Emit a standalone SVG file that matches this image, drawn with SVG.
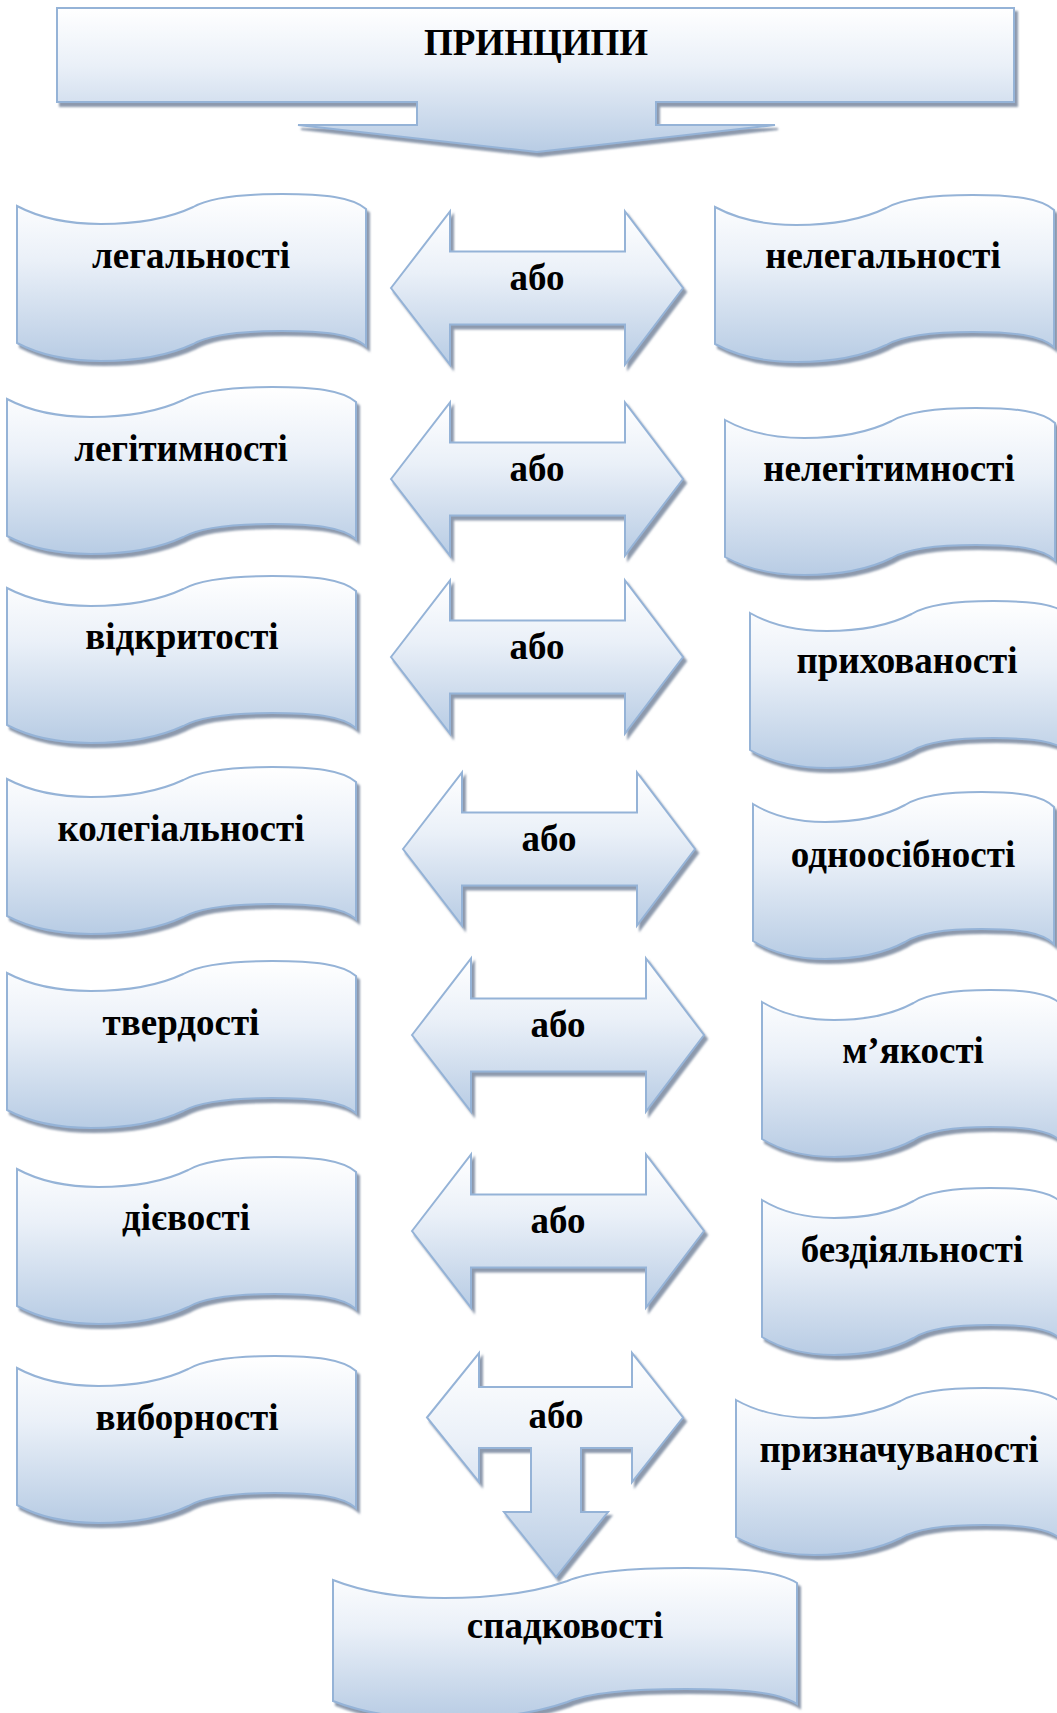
<svg xmlns="http://www.w3.org/2000/svg" width="1057" height="1713" viewBox="0 0 1057 1713">
<defs>
  <linearGradient id="grad" x1="0" y1="0" x2="0" y2="1">
    <stop offset="0" stop-color="#ffffff"/>
    <stop offset="0.4" stop-color="#eaf0f8"/>
    <stop offset="1" stop-color="#b8cce4"/>
  </linearGradient>
  <filter id="sh" x="-5%" y="-5%" width="112%" height="115%">
    <feDropShadow dx="3" dy="4" stdDeviation="1.2" flood-color="#6f8098" flood-opacity="0.8"/>
  </filter>
  <path id="dbl" d="M0,0 L59,-76.5 L59,-36.5 L234,-36.5 L234,-76.5 L292,0 L234,76.5 L234,36.5 L59,36.5 L59,76.5 Z"/>
  <path id="wave137" vector-effect="non-scaling-stroke" d="M0,0 C.06,11 .14,18 .24,18 C.37,18 .45,10 .505,1 C.54,-6 .62,-12 .76,-12 C.88,-12 .96,-9 1,3 L1,140 C.96,128 .88,125 .76,125 C.62,125 .54,131 .505,138 C.45,147 .37,155 .24,155 C.14,155 .06,148 0,137 Z"/>
  <path id="wave121" vector-effect="non-scaling-stroke" d="M0,0 C.06,11 .14,18 .24,18 C.37,18 .45,10 .505,1 C.54,-6 .62,-12 .76,-12 C.88,-12 .96,-9 1,3 L1,124 C.96,112 .88,109 .76,109 C.62,109 .54,115 .505,122 C.45,131 .37,139 .24,139 C.14,139 .06,132 0,121 Z"/>
</defs>
<style>
  .shape { fill: url(#grad); stroke: #95b3d7; stroke-width: 2; filter: url(#sh); }
  .wv { fill: url(#grad); stroke: #95b3d7; stroke-width: 2; }
  .sh { filter: url(#sh); }
  .t { font-family: "Liberation Serif", "Times New Roman", "DejaVu Serif", serif; font-weight: bold; font-size: 37px; fill: #000; text-anchor: middle; }
</style>
<rect width="1057" height="1713" fill="#ffffff"/>

<g id="node-principles">
  <path class="shape" d="M57,8 L1014,8 L1014,102 L656,102 L656,125 L775,125 L537,152 L298,125 L417,125 L417,102 L57,102 Z"/>
  <text class="t" x="536" y="55">ПРИНЦИПИ</text>
</g>

<g id="connectors">
  <g id="or-1"><use href="#dbl" class="shape" transform="translate(391,288)"/><text class="t" x="537" y="290">або</text></g>
  <g id="or-2"><use href="#dbl" class="shape" transform="translate(391,479)"/><text class="t" x="537" y="481">або</text></g>
  <g id="or-3"><use href="#dbl" class="shape" transform="translate(391,657)"/><text class="t" x="537" y="659">або</text></g>
  <g id="or-4"><use href="#dbl" class="shape" transform="translate(403,849)"/><text class="t" x="549" y="851">або</text></g>
  <g id="or-5"><use href="#dbl" class="shape" transform="translate(412,1035)"/><text class="t" x="558" y="1037">або</text></g>
  <g id="or-6"><use href="#dbl" class="shape" transform="translate(412,1231)"/><text class="t" x="558" y="1233">або</text></g>
  <g id="or-7">
    <path class="shape" d="M427,1417.5 L479,1353 L479,1387 L632,1387 L632,1353 L683,1417.5 L632,1482 L632,1448 L581,1448 L581,1512 L608,1512 L556,1577 L504,1512 L531,1512 L531,1448 L479,1448 L479,1482 Z"/>
    <text class="t" x="556" y="1428">або</text>
  </g>
</g>

<g id="node-legalnosti">
  <g class="sh"><use href="#wave137" class="wv" transform="translate(17,206) scale(349,1)"/></g>
  <text class="t" x="191" y="268">легальності</text>
</g>
<g id="node-legitymnosti">
  <g class="sh"><use href="#wave137" class="wv" transform="translate(7,399) scale(349,1)"/></g>
  <text class="t" x="181" y="461">легітимності</text>
</g>
<g id="node-vidkrytosti">
  <g class="sh"><use href="#wave137" class="wv" transform="translate(7,588) scale(349,1)"/></g>
  <text class="t" x="182" y="649">відкритості</text>
</g>
<g id="node-kolegialnosti">
  <g class="sh"><use href="#wave137" class="wv" transform="translate(7,779) scale(349,1)"/></g>
  <text class="t" x="181" y="841">колегіальності</text>
</g>
<g id="node-tverdosti">
  <g class="sh"><use href="#wave137" class="wv" transform="translate(7,973) scale(349,1)"/></g>
  <text class="t" x="181" y="1035">твердості</text>
</g>
<g id="node-diievosti">
  <g class="sh"><use href="#wave137" class="wv" transform="translate(17,1169) scale(339,1)"/></g>
  <text class="t" x="186" y="1230">дієвості</text>
</g>
<g id="node-vybornosti">
  <g class="sh"><use href="#wave137" class="wv" transform="translate(17,1368) scale(339,1)"/></g>
  <text class="t" x="187" y="1430">виборності</text>
</g>

<g id="node-nelegalnosti">
  <g class="sh"><use href="#wave137" class="wv" transform="translate(715,207) scale(339,1)"/></g>
  <text class="t" x="883" y="268">нелегальності</text>
</g>
<g id="node-nelegitymnosti">
  <g class="sh"><use href="#wave137" class="wv" transform="translate(725,420) scale(330,1)"/></g>
  <text class="t" x="889" y="481">нелегітимності</text>
</g>
<g id="node-pryhovanosti">
  <g class="sh"><use href="#wave137" class="wv" transform="translate(750,613) scale(320,1)"/></g>
  <text class="t" x="907" y="673">прихованості</text>
</g>
<g id="node-odnoosibnosti">
  <g class="sh"><use href="#wave137" class="wv" transform="translate(753,804) scale(301,1)"/></g>
  <text class="t" x="903" y="867">одноосібності</text>
</g>
<g id="node-miakosti">
  <g class="sh"><use href="#wave137" class="wv" transform="translate(762,1002) scale(300,1)"/></g>
  <text class="t" x="913" y="1063">м’якості</text>
</g>
<g id="node-bezdiialnosti">
  <g class="sh"><use href="#wave137" class="wv" transform="translate(762,1200) scale(300,1)"/></g>
  <text class="t" x="912" y="1262">бездіяльності</text>
</g>
<g id="node-pryznachuvanosti">
  <g class="sh"><use href="#wave137" class="wv" transform="translate(736,1400) scale(326,1)"/></g>
  <text class="t" x="899" y="1462">призначуваності</text>
</g>
<g id="node-spadkovosti">
  <g class="sh"><use href="#wave121" class="wv" transform="translate(333,1580) scale(464,1)"/></g>
  <text class="t" x="565" y="1638">спадковості</text>
</g>
</svg>
